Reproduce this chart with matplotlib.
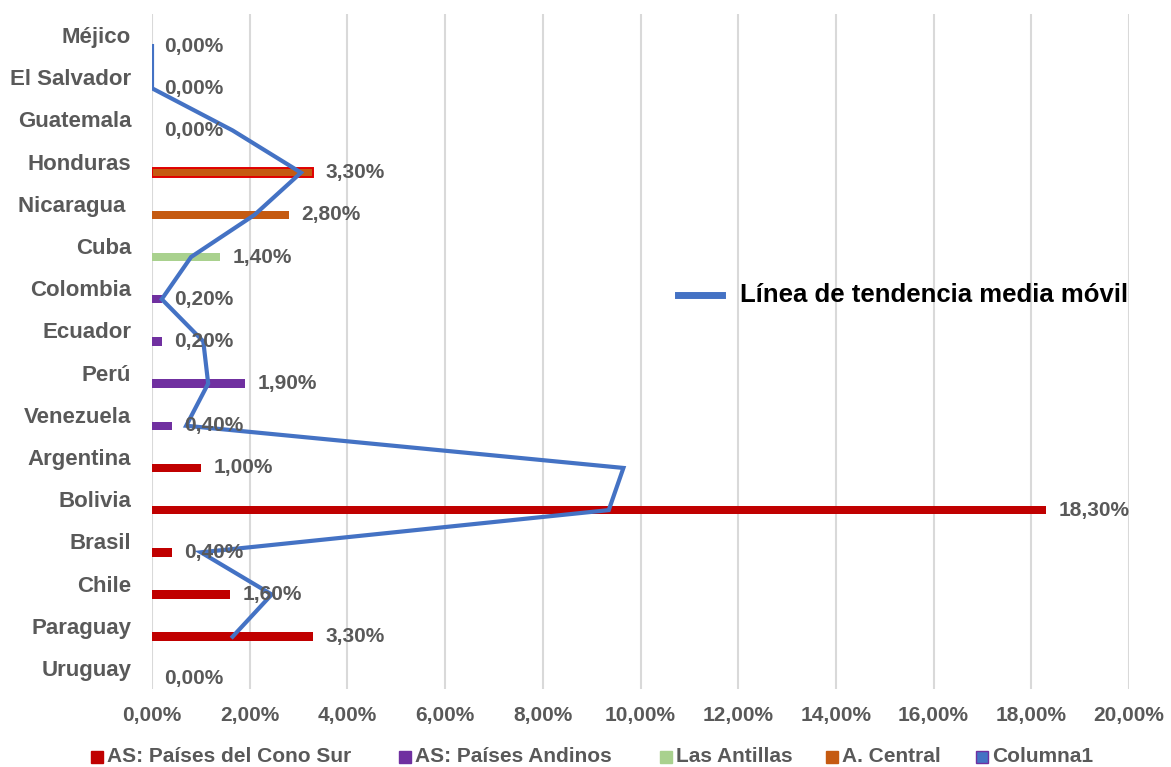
import matplotlib
matplotlib.use("Agg")
import matplotlib.pyplot as plt
from matplotlib.patches import Rectangle
from matplotlib.lines import Line2D

plt.rcParams['font.family'] = ['Liberation Sans', 'DejaVu Sans']

categories = ["Méjico", "El Salvador", "Guatemala", "Honduras", "Nicaragua ", "Cuba",
              "Colombia", "Ecuador", "Perú", "Venezuela", "Argentina", "Bolivia",
              "Brasil", "Chile", "Paraguay", "Uruguay"]
# value (%) and group of each country
values = [0.0, 0.0, 0.0, 3.3, 2.8, 1.4, 0.2, 0.2, 1.9, 0.4, 1.0, 18.3, 0.4, 1.6, 3.3, 0.0]
groups = ["A. Central", "A. Central", "A. Central", "A. Central", "A. Central", "Las Antillas",
          "AS: Países Andinos", "AS: Países Andinos", "AS: Países Andinos", "AS: Países Andinos",
          "AS: Países del Cono Sur", "AS: Países del Cono Sur", "AS: Países del Cono Sur",
          "AS: Países del Cono Sur", "AS: Países del Cono Sur", "AS: Países del Cono Sur"]
value_labels = ["0,00%", "0,00%", "0,00%", "3,30%", "2,80%", "1,40%", "0,20%", "0,20%",
                "1,90%", "0,40%", "1,00%", "18,30%", "0,40%", "1,60%", "3,30%", "0,00%"]
# moving-average trendline values (%), Méjico .. Paraguay
trend_values = [0.0, 0.0, 1.65, 3.05, 2.1, 0.8, 0.2, 1.05, 1.15, 0.7, 9.65, 9.35, 1.0, 2.45, 1.65]

series_names = ["AS: Países del Cono Sur", "AS: Países Andinos", "Las Antillas", "A. Central", "Columna1"]
series_colors = {"AS: Países del Cono Sur": "#C00000", "AS: Países Andinos": "#7030A0",
                 "Las Antillas": "#A9D18E", "A. Central": "#C55A11", "Columna1": "#4472C4"}

x_ticks = [0, 2, 4, 6, 8, 10, 12, 14, 16, 18, 20]
x_tick_labels = ["0,00%", "2,00%", "4,00%", "6,00%", "8,00%", "10,00%", "12,00%",
                 "14,00%", "16,00%", "18,00%", "20,00%"]

W, H = 1171, 767
fig = plt.figure(figsize=(W / 100, H / 100), dpi=100)
ax = fig.add_axes([152 / W, 1 - 689 / H, (1129 - 152) / W, (689 - 14) / H])

gray = "#595959"
offset = 0.26
bh = 0.2
ypos = list(range(len(categories)))
bar_y = [y + offset for y in ypos]

for i, (v, g) in enumerate(zip(values, groups)):
    ec = "#E00000" if categories[i] == "Honduras" else "none"
    lw = 1.4 if categories[i] == "Honduras" else 0
    ax.barh(bar_y[i], v, height=bh, color=series_colors[g], edgecolor=ec, linewidth=lw, zorder=2)
    ax.annotate(value_labels[i], (v, bar_y[i]), xytext=(9, 0), textcoords="offset points",
                ha="left", va="center", fontsize=15, fontweight="bold", color=gray, zorder=4)

ax.plot(trend_values, bar_y[:len(trend_values)], color="#4472C4", lw=3.0, zorder=3,
        solid_joinstyle="miter")

ax.set_xlim(0, 20)
ax.set_ylim(len(categories) - 0.5, -0.5)
ax.set_xticks(x_ticks)
ax.set_xticklabels(x_tick_labels)
ax.set_yticks(ypos)
ax.set_yticklabels(categories)
ax.tick_params(axis="both", length=0, labelcolor=gray)
ax.tick_params(axis="x", pad=12.5, labelsize=15)
ax.tick_params(axis="y", pad=15, labelsize=16)
for lab in ax.get_xticklabels() + ax.get_yticklabels():
    lab.set_fontweight("bold")
ax.grid(axis="x", color="#D9D9D9", lw=1.5, zorder=0)
for s in ax.spines.values():
    s.set_visible(False)

# trendline legend
fig.add_artist(Line2D([678 / W, 722 / W], [1 - 295 / H, 1 - 295 / H], color="#4472C4", lw=5))
fig.text(740 / W, 1 - 295 / H, "Línea de tendencia media móvil", fontsize=18.5,
         fontweight="bold", color="black", va="center", ha="left")

# bottom legend
legend_text_x = [107, 415, 676, 842, 992]
ly = 1 - 757 / H
for name, tx in zip(series_names, legend_text_x):
    ec = "#7030A0" if name == "Columna1" else series_colors[name]
    fig.add_artist(Rectangle(((tx - 16) / W, ly - 6 / H), 12 / W, 12 / H,
                             facecolor=series_colors[name], edgecolor=ec, lw=1,
                             transform=fig.transFigure))
    fig.text(tx / W, ly, name, fontsize=15, fontweight="bold", color=gray,
             va="center", ha="left")

fig.savefig("out.png", dpi=100)
